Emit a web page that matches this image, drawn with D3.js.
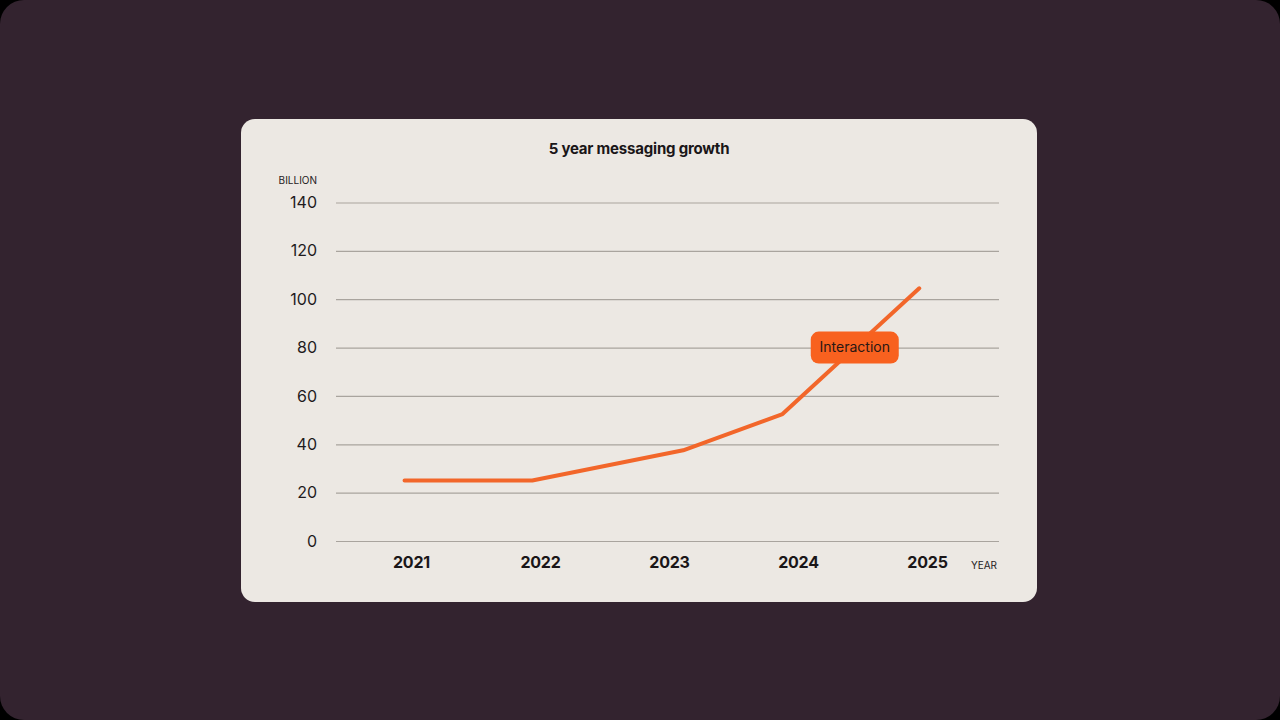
<!DOCTYPE html>
<html>
<head>
<meta charset="utf-8">
<script src="https://cdn.jsdelivr.net/npm/d3@7"></script>
<style>
  html, body { margin: 0; padding: 0; background: #000; }
  #frame { width: 1280px; height: 720px; background: #33232f; border-radius: 24px; overflow: hidden; }
  svg { display: block; font-family: Inter, "Noto Sans", sans-serif; }
</style>
</head>
<body>
<div id="frame"></div>
<script>
// Chart data
const title = '5 year messaging growth'
const yearLabels = [2021, 2022, 2023, 2024, 2025]
const yTicks = [0, 20, 40, 60, 80, 100, 120, 140]
// where each point sits along the year axis
const pointYears = [2020.95, 2021.94, 2023.11, 2023.88, 2024.94]
const pointValues = [25, 25, 37.5, 52.5, 104.5]
const annotation = { text: 'Interaction', year: 2024.44, value: 80 }

// Card layout
const card = { x: 241, y: 119, w: 796, h: 483, r: 14 }
const plot = { left: 336, right: 999, top: 202.5, bottom: 541 }

const svg = d3.select('#frame')
  .append('svg')
  .attr('width', 1280)
  .attr('height', 720)

svg.append('rect')
  .attr('x', card.x)
  .attr('y', card.y)
  .attr('width', card.w)
  .attr('height', card.h)
  .attr('rx', card.r)
  .attr('fill', '#ece8e3')

// Scales
const xScale = d3.scaleLinear()
  .domain([2021, 2025])
  .range([411, 927])

const yScale = d3.scaleLinear()
  .domain([0, 140])
  .range([plot.bottom, plot.top])

// Title
svg.append('text')
  .attr('x', card.x + card.w / 2)
  .attr('y', 149.5)
  .attr('text-anchor', 'middle')
  .attr('dominant-baseline', 'middle')
  .attr('font-size', 15)
  .attr('font-weight', 700)
  .attr('letter-spacing', -0.2)
  .attr('fill', '#1a1618')
  .text(title)

// y axis: grid lines + labels
const yAxis = d3.axisLeft(yScale)
  .tickValues(yTicks)
  .tickSize(-(plot.right - plot.left))
  .tickPadding(19)

const gy = svg.append('g')
  .attr('transform', `translate(${plot.left}, 0)`)
  .call(yAxis)

gy.select('.domain').remove()
gy.selectAll('.tick line')
  .attr('stroke', '#a9a49e')
  .attr('stroke-width', 1.2)
gy.selectAll('.tick text')
  .attr('font-size', 16)
  .attr('fill', '#1f1b1d')
  .attr('font-family', 'Inter, "Noto Sans", sans-serif')

svg.append('text')
  .attr('x', 317)
  .attr('y', 181.5)
  .attr('text-anchor', 'end')
  .attr('dominant-baseline', 'middle')
  .attr('font-size', 10)
  .attr('fill', '#1f1b1d')
  .text('BILLION')

// x axis labels
const xAxis = d3.axisBottom(xScale)
  .tickValues(yearLabels)
  .tickFormat(d3.format('d'))
  .tickSize(0)
  .tickPadding(0)

const gx = svg.append('g')
  .attr('transform', `translate(0, 563.5)`)
  .call(xAxis)

gx.select('.domain').remove()
gx.selectAll('.tick text')
  .attr('dy', null)
  .attr('dominant-baseline', 'middle')
  .attr('font-size', 16)
  .attr('font-weight', 700)
  .attr('letter-spacing', -0.2)
  .attr('fill', '#1a1618')
  .attr('font-family', 'Inter, "Noto Sans", sans-serif')

svg.append('text')
  .attr('x', 984)
  .attr('y', 566.5)
  .attr('text-anchor', 'middle')
  .attr('dominant-baseline', 'middle')
  .attr('font-size', 10)
  .attr('fill', '#1f1b1d')
  .text('YEAR')

// the line
const line = d3.line()
  .x((d, i) => xScale(pointYears[i]))
  .y((d) => yScale(d))

svg.append('path')
  .datum(pointValues)
  .attr('d', line)
  .attr('fill', 'none')
  .attr('stroke', '#f2662a')
  .attr('stroke-width', 4)
  .attr('stroke-linejoin', 'round')
  .attr('stroke-linecap', 'round')

// annotation badge
const ax = xScale(annotation.year)
const ay = yScale(annotation.value)
const badge = svg.append('g').attr('transform', `translate(${ax}, ${ay})`)

badge.append('rect')
  .attr('x', -44)
  .attr('y', -16)
  .attr('width', 88)
  .attr('height', 32)
  .attr('rx', 8)
  .attr('fill', '#f8611f')

badge.append('text')
  .attr('y', 1)
  .attr('text-anchor', 'middle')
  .attr('dominant-baseline', 'middle')
  .attr('font-size', 14)
  .attr('fill', '#2a1714')
  .text(annotation.text)
</script>
</body>
</html>
